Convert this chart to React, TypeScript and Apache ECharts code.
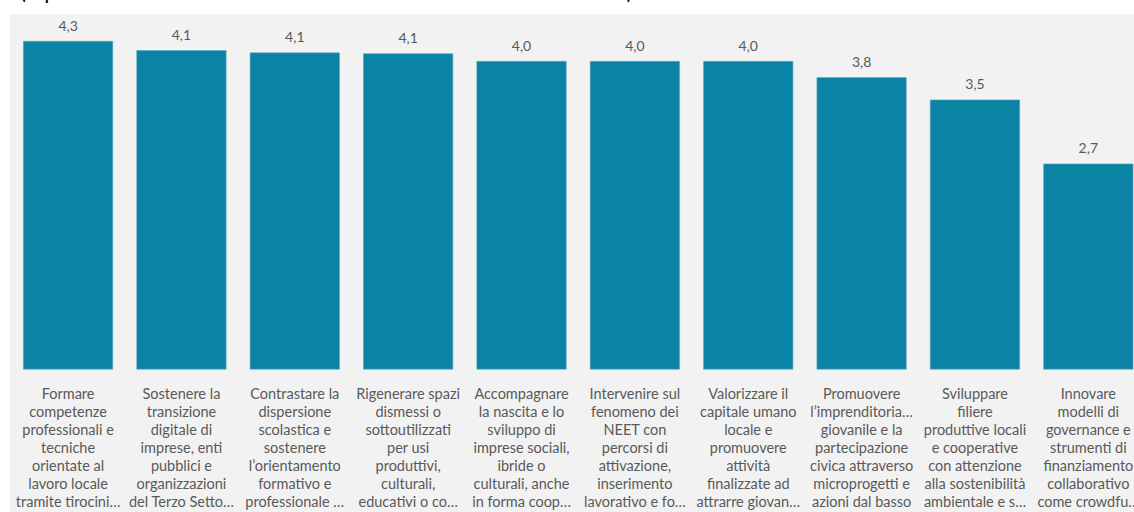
import React, { useEffect, useRef } from "react";
import * as echarts from "echarts";

const titleText = "(1 per nulla o scarsamente utile a 5 molto o estremamente utile)";

const categories: string[] = [
  "Formare\ncompetenze\nprofessionali e\ntecniche\norientate al\nlavoro locale\ntramite tirocini…",
  "Sostenere la\ntransizione\ndigitale di\nimprese, enti\npubblici e\norganizzazioni\ndel Terzo Setto…",
  "Contrastare la\ndispersione\nscolastica e\nsostenere\nl’orientamento\nformativo e\nprofessionale …",
  "Rigenerare spazi\ndismessi o\nsottoutilizzati\nper usi\nproduttivi,\nculturali,\neducativi o co…",
  "Accompagnare\nla nascita e lo\nsviluppo di\nimprese sociali,\nibride o\nculturali, anche\nin forma coop…",
  "Intervenire sul\nfenomeno dei\nNEET con\npercorsi di\nattivazione,\ninserimento\nlavorativo e fo…",
  "Valorizzare il\ncapitale umano\nlocale e\npromuovere\nattività\nfinalizzate ad\nattrarre giovan…",
  "Promuovere\nl’imprenditoria…\ngiovanile e la\npartecipazione\ncivica attraverso\nmicroprogetti e\nazioni dal basso",
  "Sviluppare\nfiliere\nproduttive locali\ne cooperative\ncon attenzione\nalla sostenibilità\nambientale e s…",
  "Innovare\nmodelli di\ngovernance e\nstrumenti di\nfinanziamento\ncollaborativo\ncome crowdfu…",
];

const values: number[] = [4.26, 4.14, 4.11, 4.1, 4.0, 4.0, 4.0, 3.79, 3.5, 2.67];

export default function App() {
  const ref = useRef<HTMLDivElement>(null);
  useEffect(() => {
    if (!ref.current) return;
    const chart = echarts.init(ref.current, undefined, { renderer: "svg" });
    const font = "Lato, 'Noto Sans', sans-serif";
    chart.setOption({
      animation: false,
      backgroundColor: "#ffffff",
      graphic: [
        {
          type: "rect",
          shape: { x: 10, y: 14, width: 1200, height: 520 },
          style: { fill: "#f2f2f2" },
          z: -10,
          silent: true,
        },
        {
          type: "text",
          x: 20,
          y: -21,
          style: {
            text: titleText,
            fill: "#000000",
            font: "22px Lato, 'Noto Sans', sans-serif",
          },
          z: 10,
        },
      ],
      grid: { left: 11.4, right: 0, top: 22.5, bottom: 142.5, containLabel: false },
      xAxis: {
        type: "category",
        data: categories,
        axisLine: { show: false },
        axisTick: { show: false },
        axisLabel: {
          interval: 0,
          margin: 15,
          color: "#595959",
          fontSize: 14.5,
          lineHeight: 18,
          fontFamily: font,
          align: "center",
          verticalAlign: "top",
        },
      },
      yAxis: {
        type: "value",
        min: 0,
        max: 4.5,
        show: false,
        splitLine: { show: false },
      },
      series: [
        {
          type: "bar",
          data: values,
          barWidth: 90,
          itemStyle: { color: "#0b83a4", borderColor: "#5aaac2", borderWidth: 0.6 },
          label: {
            show: true,
            position: "top",
            distance: 9,
            color: "#595959",
            fontSize: 14,
            fontFamily: font,
            formatter: (p: any) => p.value.toFixed(1).replace(".", ","),
          },
        },
      ],
    });
    return () => chart.dispose();
  }, []);
  return (
    <div
      ref={ref}
      style={{ position: "fixed", left: 0, top: 0, width: 1145, height: 512 }}
    />
  );
}
